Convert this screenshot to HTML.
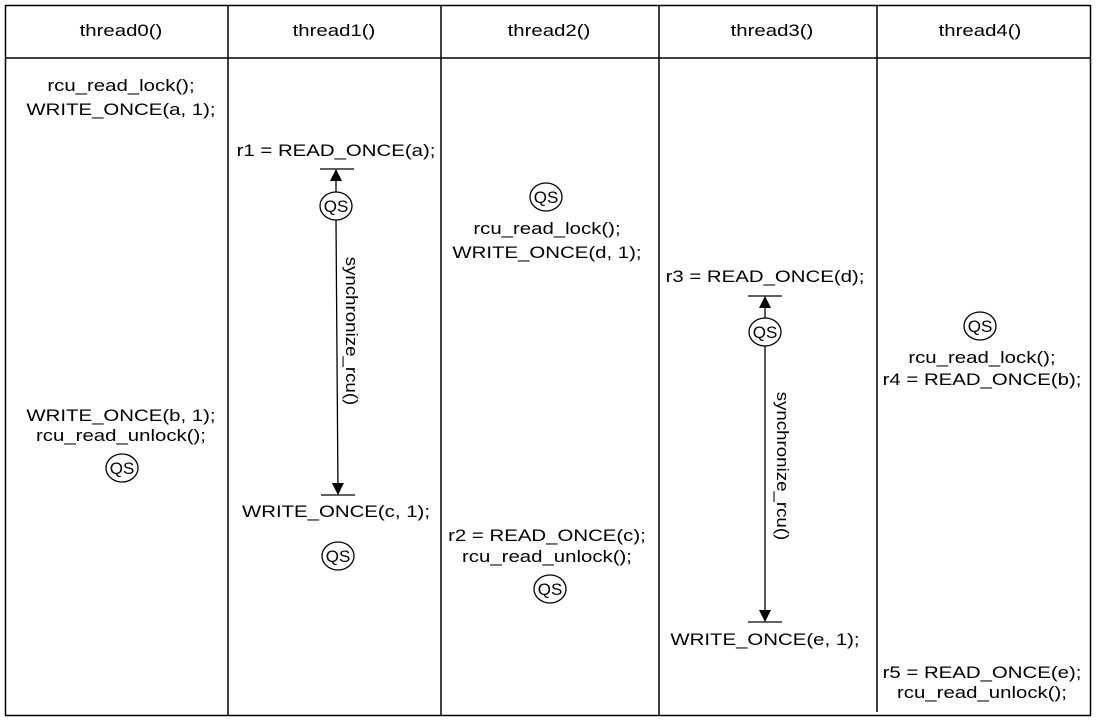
<!DOCTYPE html>
<html><head><meta charset="utf-8"><style>
html,body{margin:0;padding:0;background:#fff;}
svg{display:block;}
text{font-family:"Liberation Sans",sans-serif;font-size:17px;fill:#000;}
.s{transform-box:fill-box;transform-origin:center;transform:scaleX(1.2);}
.r{transform-box:fill-box;transform-origin:center;transform:scaleX(1.1);}
</style></head><body>
<svg width="1097" height="720" viewBox="0 0 1097 720" xmlns="http://www.w3.org/2000/svg">
<defs>
<marker id="ah" markerWidth="12" markerHeight="12" refX="11" refY="6" orient="auto" markerUnits="userSpaceOnUse">
<path d="M0,0 L12,6 L0,12 z" fill="#000"/>
</marker>
</defs>
<g stroke="#000" stroke-width="1.5" fill="none">
<rect x="5.5" y="5.5" width="1085" height="710"/>
<line x1="5" y1="58" x2="1090" y2="58"/>
<line x1="228" y1="5" x2="228" y2="715"/>
<line x1="441" y1="5" x2="441" y2="715"/>
<line x1="659" y1="5" x2="659" y2="715"/>
<line x1="877" y1="5" x2="877" y2="712"/>
</g>
<g text-anchor="middle">
<text class="s" x="121" y="36">thread0()</text>
<text class="s" x="334" y="36">thread1()</text>
<text class="s" x="549" y="36">thread2()</text>
<text class="s" x="772" y="36">thread3()</text>
<text class="s" x="980" y="36">thread4()</text>

<text class="s" x="121" y="91">rcu_read_lock();</text>
<text class="s" x="121" y="115">WRITE_ONCE(a, 1);</text>
<text class="s" x="121" y="421">WRITE_ONCE(b, 1);</text>
<text class="s" x="121" y="441">rcu_read_unlock();</text>

<text class="s" x="336" y="156">r1 = READ_ONCE(a);</text>
<text class="s" x="336" y="517">WRITE_ONCE(c, 1);</text>

<text class="s" x="547" y="234">rcu_read_lock();</text>
<text class="s" x="547" y="258">WRITE_ONCE(d, 1);</text>
<text class="s" x="547" y="541">r2 = READ_ONCE(c);</text>
<text class="s" x="547" y="562">rcu_read_unlock();</text>

<text class="s" x="765" y="282">r3 = READ_ONCE(d);</text>
<text class="s" x="765" y="645">WRITE_ONCE(e, 1);</text>

<text class="s" x="982" y="363">rcu_read_lock();</text>
<text class="s" x="982" y="385">r4 = READ_ONCE(b);</text>
<text class="s" x="982" y="678">r5 = READ_ONCE(e);</text>
<text class="s" x="982" y="698">rcu_read_unlock();</text>
</g>
<g stroke="#000" stroke-width="1.3" fill="#fff">
<ellipse cx="122" cy="468" rx="16" ry="14"/>
<ellipse cx="336" cy="206" rx="16" ry="14"/>
<ellipse cx="338" cy="556" rx="16" ry="14"/>
<ellipse cx="546" cy="197" rx="16" ry="14"/>
<ellipse cx="550" cy="589" rx="16" ry="14"/>
<ellipse cx="765" cy="332" rx="16" ry="14"/>
<ellipse cx="980" cy="326" rx="16" ry="14"/>
</g>
<g text-anchor="middle" style="font-size:17px">
<text x="122" y="474">QS</text>
<text x="336" y="212">QS</text>
<text x="338" y="562">QS</text>
<text x="546" y="203">QS</text>
<text x="550" y="595">QS</text>
<text x="765" y="338">QS</text>
<text x="980" y="332">QS</text>
</g>
<g stroke="#000" stroke-width="1.3">
<line x1="320" y1="169" x2="354" y2="169"/>
<line x1="336" y1="192" x2="336" y2="170" marker-end="url(#ah)"/>
<line x1="336" y1="220" x2="338" y2="494" marker-end="url(#ah)"/>
<line x1="321" y1="495" x2="355" y2="495"/>
<line x1="748" y1="296" x2="782" y2="296"/>
<line x1="765" y1="318" x2="765" y2="297" marker-end="url(#ah)"/>
<line x1="765" y1="346" x2="765" y2="621" marker-end="url(#ah)"/>
<line x1="748" y1="622" x2="782" y2="622"/>
</g>
<g transform="translate(346,331) rotate(90)"><text class="r" x="0" y="0" text-anchor="middle">synchronize_rcu()</text></g>
<g transform="translate(777,466) rotate(90)"><text class="r" x="0" y="0" text-anchor="middle">synchronize_rcu()</text></g>
</svg>
</body></html>
